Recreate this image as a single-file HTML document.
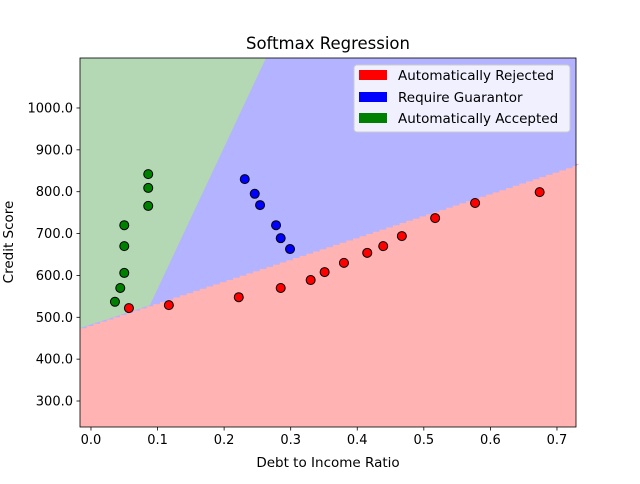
<!DOCTYPE html>
<html><head><meta charset="utf-8"><style>
body{margin:0;background:#fff;font-family:"DejaVu Sans","Liberation Sans",sans-serif}
</style></head><body>
<svg id="chart" width="640" height="480" xmlns="http://www.w3.org/2000/svg">
<rect width="640" height="480" fill="#fff"/>
<g id="regions"></g>
<g id="points"></g>
<rect x="80" y="58" width="496" height="369" fill="none" stroke="#000" stroke-width="0.8"/>
<g id="axes" font-size="13" fill="#000"></g>
<text x="328" y="49" text-anchor="middle" font-size="16.5">Softmax Regression</text>
<text x="328" y="467" text-anchor="middle" font-size="13.5">Debt to Income Ratio</text>
<text x="13" y="242" text-anchor="middle" font-size="13.5" transform="rotate(-90 13 242)">Credit Score</text>
<g font-size="13.5">
<rect x="354" y="65" width="216" height="67" rx="3" fill="#fff" fill-opacity="0.8" stroke="#ccc"/>
<g><rect x="359" y="70" width="28" height="10" fill="#f00"/><text x="398" y="80">Automatically Rejected</text></g>
<g><rect x="359" y="92" width="28" height="10" fill="#00f"/><text x="398" y="102">Require Guarantor</text></g>
<g><rect x="359" y="113" width="28" height="10" fill="#008000"/><text x="398" y="123">Automatically Accepted</text></g>
</g>
</svg>
<script>
const xTicks=[0.0,0.1,0.2,0.3,0.4,0.5,0.6,0.7];
const yTicks=[300,400,500,600,700,800,900,1000];
const rejectedX=[0.057,0.117,0.222,0.285,0.330,0.351,0.380,0.415,0.439,0.467,0.517,0.577,0.674];
const rejectedY=[522,529,548,570,589,608,630,654,670,694,737,773,799];
const guarantorX=[0.231,0.246,0.254,0.278,0.285,0.299];
const guarantorY=[830,795,768,720,689,663];
const acceptedX=[0.086,0.086,0.086,0.050,0.050,0.050,0.044,0.036];
const acceptedY=[842,809,766,720,670,606,570,537];
const redBoundary=[474,864];
const greenBoundaryX=[0.0886,0.2629];
const XMIN=-0.0165,XMAX=0.7286,YMIN=237.9,YMAX=1119.4;
const PL=80,PR=576,PT=58,PB=427;
const sx=v=>PL+(v-XMIN)/(XMAX-XMIN)*(PR-PL);
const sy=v=>PB-(v-YMIN)/(YMAX-YMIN)*(PB-PT);
const NS="http://www.w3.org/2000/svg";
function mk(t,a,p){const e=document.createElementNS(NS,t);for(const k in a)e.setAttribute(k,a[k]);p.appendChild(e);return e;}
const R=document.getElementById('regions');
const redY=x=>redBoundary[0]+(x-XMIN)/(XMAX-XMIN)*(redBoundary[1]-redBoundary[0]);
const gslope=(1119.4-560)/(greenBoundaryX[1]-greenBoundaryX[0]);
const gX=y=>greenBoundaryX[0]+(y-560)/gslope;
let bg=mk('rect',{x:PL,y:PT,width:PR-PL,height:PB-PT,fill:'#b3b3ff'},R);

let yi=560;
let gp=[[sx(XMIN),sy(YMAX)],[sx(gX(YMAX)),sy(YMAX)],[sx(gX(yi)),sy(redY(gX(yi)))],[sx(XMIN),sy(redY(XMIN))]];
let g=mk('polygon',{points:gp.map(p=>p.join(',')).join(' '),fill:'#b3d8b3'},R);

let pts=[];
for(let x=XMIN;x<XMAX+0.01;x+=0.01){const x2=Math.min(x+0.01,XMAX);const y=redY(x);pts.push([sx(x),sy(y)],[sx(x2),sy(y)]);}
pts.push([PR,PB],[PL,PB]);
let r=mk('polygon',{points:pts.map(p=>p.join(',')).join(' '),fill:'#ffb3b3'},R);

const P=document.getElementById('points');
function series(xs,ys,c,name){xs.forEach((x,i)=>{const e=mk('circle',{cx:sx(x),cy:sy(ys[i]),r:4.5,fill:c,stroke:'#000','stroke-width':1},P);
});}
series(rejectedX,rejectedY,'#f00','rejected-point');
series(guarantorX,guarantorY,'#00f','guarantor-point');
series(acceptedX,acceptedY,'#008000','accepted-point');
const A=document.getElementById('axes');
xTicks.forEach(t=>{const x=sx(t);mk('line',{x1:x,x2:x,y1:PB,y2:PB+3.5,stroke:'#000','stroke-width':0.8},A);
const l=mk('text',{x:x,y:PB+17,'text-anchor':'middle'},A);l.textContent=t.toFixed(1);
});
yTicks.forEach(t=>{const y=sy(t);mk('line',{x1:PL-3.5,x2:PL,y1:y,y2:y,stroke:'#000','stroke-width':0.8},A);
const l=mk('text',{x:PL-7,y:y+4.5,'text-anchor':'end'},A);l.textContent=t.toFixed(1);
});
</script>
</body></html>
